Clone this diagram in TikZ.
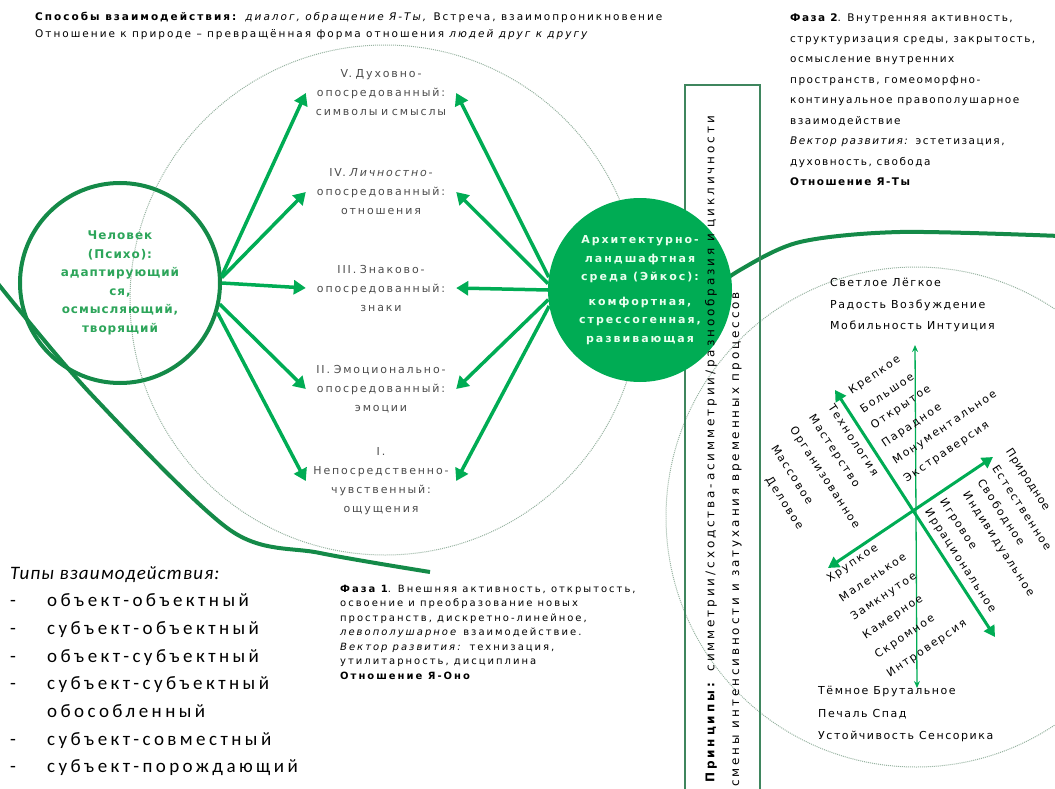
\documentclass[tikz,border=0pt]{standalone}
\usepackage{fontspec}
\setmainfont{DejaVu Sans}
\newfontfamily\listfont{Carlito}
\usetikzlibrary{arrows.meta, positioning}

\definecolor{eikgreen}{RGB}{0,172,84}
\definecolor{darkgreen}{RGB}{20,138,72}
\definecolor{dotgray}{RGB}{150,178,160}
\definecolor{txtgray}{RGB}{75,75,75}
\definecolor{psygreen}{RGB}{45,165,90}

\begin{document}
\begin{tikzpicture}[x=1pt, y=-1pt,
    every node/.style={inner sep=0pt},
    topline/.style={anchor=west, font=\fontsize{10.5}{17}\selectfont\addfontfeature{LetterSpace=19}},
    phase/.style={anchor=north west, align=left},
    block/.style={align=center, text width=150pt, text=txtgray,
        font=\fontsize{11}{19}\selectfont\addfontfeature{LetterSpace=17}},
    psycirc/.style={circle, draw=darkgreen, line width=4pt, minimum size=200pt, align=center,
        text=psygreen, font=\fontsize{12}{18.5}\selectfont\bfseries\addfontfeature{LetterSpace=8}},
    eikcirc/.style={circle, fill=eikgreen, minimum size=184pt, align=center,
        text={rgb,255:red,232;green,255;blue,238}, font=\fontsize{11}{18.5}\selectfont\bfseries\addfontfeature{LetterSpace=18}},
    arr/.style={-{Triangle[width=14pt,length=12pt]}, line width=3.5pt, eikgreen},
    wave/.style={darkgreen, line width=4pt},
    dots/.style={dotgray, densely dotted, line width=1pt},
    axis/.style={{Stealth[length=7pt,width=6pt]}-{Stealth[length=7pt,width=6pt]}, eikgreen, line width=1.3pt},
    diag/.style={{Triangle[width=12pt,length=11pt]}-{Triangle[width=12pt,length=11pt]}, eikgreen, line width=3pt},
    word/.style={anchor=west, font=\fontsize{11}{13}\selectfont\addfontfeature{LetterSpace=16}},
    vert/.style={anchor=west, rotate=90, font=\fontsize{12}{14}\selectfont\addfontfeature{LetterSpace=24}}
]
\useasboundingbox (0,0) rectangle (1055,789);

% dotted spheres
\draw[dots] (385,300) circle[radius=255];
\draw[dots] (916,517) circle[radius=250];

% the wave
\draw[wave] plot[smooth] coordinates {(-5,280) (90,393) (230,530) (320,553) (430,572)};
\draw[wave] plot[smooth] coordinates {(690,305) (740,270) (800,242) (900,232) (1060,236)};

% principles box
\draw[darkgreen!60!gray, line width=1.2pt] (685,85) rectangle (760,800);

% header
\node[topline] (ways) at (35,17) {\textbf{Способы взаимодействия:} \textit{диалог, обращение Я-Ты,} Встреча, взаимопроникновение};
\node[topline] (nature) at (35,35) {Отношение к природе – превращённая форма отношения \textit{людей друг к другу}};

% the two circles
\node[psycirc] (psy) at (120,283) {Человек\\(Психо):\\адаптирующий\\ся,\\осмысляющий,\\творящий};
\node[eikcirc] (eik) at (640,290) {Архитектурно-\\ландшафтная\\среда (Эйкос):\\[6pt]комфортная,\\стрессогенная,\\развивающая};

% levels
\node[block] (v) at (381,93) {V. Духовно-\\опосредованный:\\символы и смыслы};
\node[block] (iv) at (381,192) {IV. \textit{Личностно-}\\опосредованный:\\отношения};
\node[block] (iii) at (381,288) {III. Знаково-\\опосредованный:\\знаки};
\node[block] (ii) at (381,389) {II. Эмоционально-\\опосредованный:\\эмоции};
\node[block] (i) at (381,481) {I.\\Непосредственно-\\чувственный:\\ощущения};

\path[arr]
    (psy.4) edge (v.west)
    (psy.3) edge (iv.west)
    (psy.0) edge (iii.west)
    (psy.-12) edge (ii.west)
    (psy.-17) edge (i.west);
\path[arr]
    (eik.172) edge (v.east)
    (eik.176) edge (iv.east)
    (eik.180) edge (iii.east)
    (eik.186) edge (ii.east)
    (eik.190) edge (i.east);

% principles
\node[vert] (princ1) at (711,783) {\textbf{Принципы:} симметрии/сходства-асимметрии/разнообразия и цикличности};
\node[vert] (princ2) at (737,787) {смены интенсивности и затухания временных процессов};

% phases
\node[phase, font=\fontsize{10}{14.5}\selectfont\addfontfeature{LetterSpace=20}] (ph1) at (340,585)
    {\textbf{Фаза 1}. Внешняя активность, открытость,\\
     освоение и преобразование новых\\
     пространств, дискретно-линейное,\\
     \textit{левополушарное} взаимодействие.\\
     \textit{Вектор развития:} технизация,\\
     утилитарность, дисциплина\\
     \textbf{Отношение Я-Оно}};
\node[phase, font=\fontsize{10.5}{20.5}\selectfont\addfontfeature{LetterSpace=14}] (ph2) at (790,14)
    {\textbf{Фаза 2}. Внутренняя активность,\\
     структуризация среды, закрытость,\\
     осмысление внутренних\\
     пространств, гомеоморфно-\\
     континуальное правополушарное\\
     взаимодействие\\
     \textit{Вектор развития:} эстетизация,\\
     духовность, свобода\\
     \textbf{Отношение Я-Ты}};

% interaction types
\node[phase, font=\listfont\fontsize{19}{27.7}\selectfont\addfontfeature{LetterSpace=18}] (types) at (10,566)
    {{\addfontfeature{LetterSpace=6}\textit{Типы взаимодействия:}}\\
     \makebox[37pt][l]{-}объект-объектный\\
     \makebox[37pt][l]{-}субъект-объектный\\
     \makebox[37pt][l]{-}объект-субъектный\\
     \makebox[37pt][l]{-}субъект-субъектный\\
     \makebox[37pt][l]{}обособленный\\
     \makebox[37pt][l]{-}субъект-совместный\\
     \makebox[37pt][l]{-}субъект-порождающий};

% axes of the environment
\coordinate (cc) at (915,511);
\coordinate (top) at (915,345);
\coordinate (bot) at (917,688);
\coordinate (nw) at (835,390);
\coordinate (se) at (995,637);
\coordinate (sw) at (828,568);
\coordinate (ne) at (993,457);
\draw[axis] (top) -- (bot);
\draw[diag] (nw) -- (se);
\draw[diag] (sw) -- (ne);

\node[phase, font=\fontsize{11}{21.5}\selectfont\addfontfeature{LetterSpace=14}] (light) at (830,278)
    {Светлое Лёгкое\\Радость Возбуждение\\Мобильность Интуиция};
\node[phase, font=\fontsize{11}{22.5}\selectfont\addfontfeature{LetterSpace=14}] (dark) at (818,686)
    {Тёмное Брутальное\\Печаль Спад\\Устойчивость Сенсорика};

\node[word, rotate=34] (up1) at (850,392) {Крепкое};
\node[word, rotate=34] (up2) at (861,410) {Большое};
\node[word, rotate=34] (up3) at (872,427) {Открытое};
\node[word, rotate=34] (up4) at (883,445) {Парадное};
\node[word, rotate=34] (up5) at (894,462) {Монументальное};
\node[word, rotate=34] (up6) at (905,480) {Экстраверсия};

\node[word, rotate=34] (lo1) at (828,580) {Хрупкое};
\node[word, rotate=34] (lo2) at (840,599) {Маленькое};
\node[word, rotate=34] (lo3) at (852,618) {Замкнутое};
\node[word, rotate=34] (lo4) at (864,637) {Камерное};
\node[word, rotate=34] (lo5) at (876,656) {Скромное};
\node[word, rotate=34] (lo6) at (888,675) {Интроверсия};

\node[word, rotate=-57] (le1) at (831,405) {Технология};
\node[word, rotate=-57] (le2) at (811,416) {Мастерство};
\node[word, rotate=-57] (le3) at (792,428) {Организованное};
\node[word, rotate=-57] (le4) at (774,446) {Массовое};
\node[word, rotate=-57] (le5) at (768,478) {Деловое};

\node[word, rotate=-57, font=\fontsize{11}{13}\selectfont\addfontfeature{LetterSpace=8}] (ri1) at (1008,450) {Природное};
\node[word, rotate=-57] (ri2) at (995,466) {Естественное};
\node[word, rotate=-57] (ri3) at (980,480) {Свободное};
\node[word, rotate=-57] (ri4) at (965,493) {Индивидуальное};
\node[word, rotate=-57] (ri5) at (942,500) {Игровое};
\node[word, rotate=-57] (ri6) at (927,510) {Иррациональное};
\end{tikzpicture}
\end{document}
